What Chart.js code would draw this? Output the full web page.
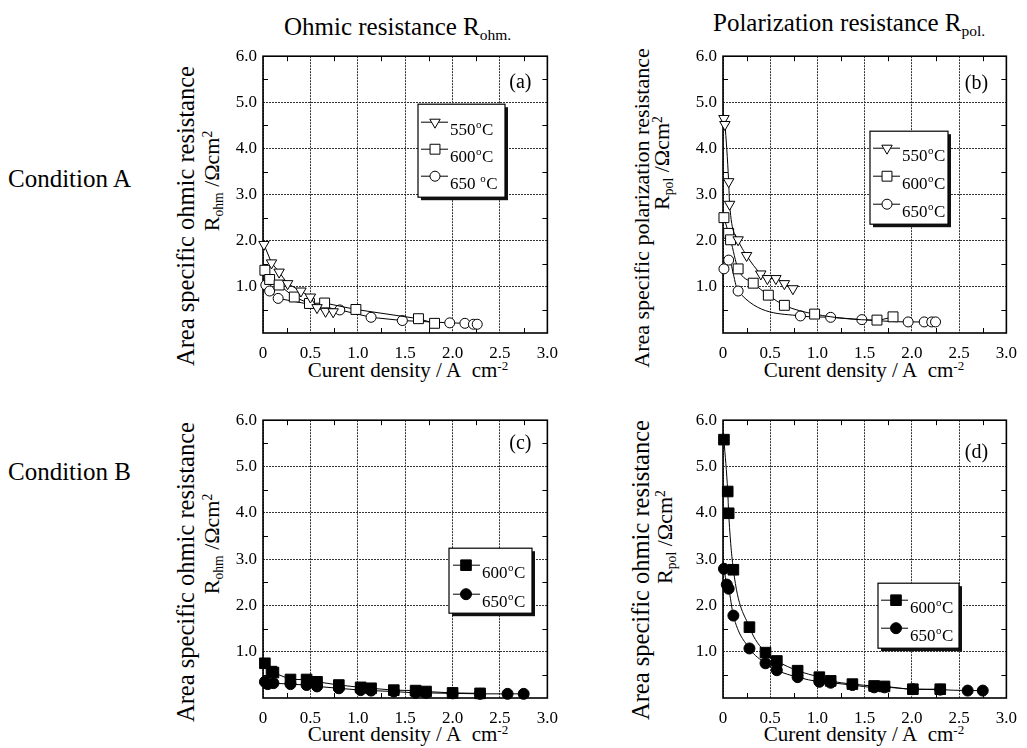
<!DOCTYPE html>
<html>
<head>
<meta charset="utf-8">
<script src="https://cdn.jsdelivr.net/npm/chart.js@4.4.0/dist/chart.umd.min.js"></script>
<style>
html, body { margin: 0; padding: 0; background: #fff; }
#page { position: relative; width: 1027px; height: 748px; overflow: hidden;
        font-family: "Liberation Serif", "Times New Roman", serif; color: #000; }
#page canvas { position: absolute; }
.t  { position: absolute; white-space: nowrap; line-height: 1; }
.yt { position: absolute; white-space: nowrap; line-height: 1; transform: translate(-50%, -50%) rotate(-90deg); }
.xt { position: absolute; white-space: nowrap; line-height: 1; transform: translateX(-50%); }
.sub { font-size: 0.62em; position: relative; top: 0.32em; }
.sup { font-size: 0.62em; position: relative; top: -0.55em; }
</style>
</head>
<body>
<div id="page">
  <div class="t" style="left:284px; top:14px; font-size:25px;">Ohmic resistance R<span class="sub">ohm.</span></div>
  <div class="t" style="left:713px; top:10px; font-size:25px;">Polarization resistance R<span class="sub">pol.</span></div>
  <div class="t" style="left:8px; top:166px; font-size:25px;">Condition A</div>
  <div class="t" style="left:8px; top:459px; font-size:25px;">Condition B</div>

  <div class="yt" style="left:186px; top:216px; font-size:24.5px;">Area specific ohmic resistance</div>
  <div class="yt" style="left:212px; top:181px; font-size:22px;">R<span class="sub">ohm</span> /Ωcm<span class="sup">2</span></div>
  <div class="yt" style="left:642px; top:208px; font-size:22px;">Area specific polarization resistance</div>
  <div class="yt" style="left:662px; top:163px; font-size:22px;">R<span class="sub">pol</span> /Ωcm<span class="sup">2</span></div>
  <div class="yt" style="left:186px; top:572px; font-size:24.5px;">Area specific ohmic resistance</div>
  <div class="yt" style="left:212px; top:544px; font-size:22px;">R<span class="sub">ohm</span> /Ωcm<span class="sup">2</span></div>
  <div class="yt" style="left:641px; top:570px; font-size:24.5px;">Area specific ohmic resistance</div>
  <div class="yt" style="left:665px; top:537px; font-size:22px;">R<span class="sub">pol</span> /Ωcm<span class="sup">2</span></div>

  <div class="xt" style="left:408px; top:360px; font-size:21px;">Curent density / A&nbsp;&nbsp;cm<span class="sup">-2</span></div>
  <div class="xt" style="left:864px; top:360px; font-size:21px;">Curent density / A&nbsp;&nbsp;cm<span class="sup">-2</span></div>
  <div class="xt" style="left:408px; top:724px; font-size:21px;">Curent density / A&nbsp;&nbsp;cm<span class="sup">-2</span></div>
  <div class="xt" style="left:864px; top:724px; font-size:21px;">Curent density / A&nbsp;&nbsp;cm<span class="sup">-2</span></div>

  <canvas id="cA"></canvas>
  <canvas id="cB"></canvas>
  <canvas id="cC"></canvas>
  <canvas id="cD"></canvas>
</div>

<script>
// ---- axis ticks ----
const xTicks = [0, 0.5, 1.0, 1.5, 2.0, 2.5, 3.0];
const yTicks = [1.0, 2.0, 3.0, 4.0, 5.0, 6.0];
const xMinor = [0.25, 0.75, 1.25, 1.75, 2.25, 2.75];
const yMinor = [0.5, 1.5, 2.5, 3.5, 4.5, 5.5];

// ---- (a) ohmic resistance, condition A ----
const aLabels = ['550°C', '600°C', '650 °C'];
const a550x = [0.01, 0.09, 0.17, 0.26, 0.40, 0.50, 0.57, 0.66, 0.74];
const a550y = [1.92, 1.52, 1.32, 1.07, 0.91, 0.78, 0.55, 0.47, 0.46];
const a600x = [0.02, 0.07, 0.17, 0.33, 0.49, 0.65, 0.98, 1.64, 1.81];
const a600y = [1.36, 1.16, 1.04, 0.78, 0.64, 0.65, 0.51, 0.31, 0.21];
const a650x = [0.03, 0.07, 0.16, 0.81, 1.14, 1.47, 1.97, 2.13, 2.22, 2.26];
const a650y = [1.04, 0.91, 0.75, 0.50, 0.34, 0.27, 0.22, 0.21, 0.19, 0.19];

// ---- (b) polarization resistance, condition A ----
const bLabels = ['550°C', '600°C', '650°C'];
const b550x = [0.01, 0.02, 0.06, 0.07, 0.16, 0.25, 0.40, 0.47, 0.56, 0.65, 0.74];
const b550y = [4.65, 4.52, 3.28, 2.79, 2.02, 1.68, 1.28, 1.18, 1.18, 1.07, 0.96];
const b600x = [0.01, 0.06, 0.08, 0.16, 0.32, 0.48, 0.65, 0.97, 1.63, 1.80];
const b600y = [2.50, 2.16, 2.02, 1.39, 1.08, 0.82, 0.60, 0.41, 0.28, 0.35];
const b650x = [0.01, 0.06, 0.16, 0.82, 1.14, 1.47, 1.96, 2.13, 2.21, 2.25];
const b650y = [1.39, 1.58, 0.91, 0.37, 0.34, 0.29, 0.24, 0.24, 0.24, 0.24];

// ---- (c) ohmic resistance, condition B ----
const cLabels = ['600°C', '650°C'];
const c600x = [0.02, 0.09, 0.11, 0.29, 0.46, 0.57, 0.80, 1.03, 1.14, 1.38, 1.61, 1.72, 2.00, 2.29];
const c600y = [0.75, 0.57, 0.55, 0.40, 0.40, 0.35, 0.28, 0.23, 0.21, 0.17, 0.16, 0.14, 0.11, 0.10];
const c650x = [0.02, 0.05, 0.11, 0.29, 0.46, 0.57, 0.80, 1.03, 1.14, 1.38, 1.61, 1.72, 2.00, 2.29, 2.58, 2.75];
const c650y = [0.35, 0.30, 0.32, 0.30, 0.28, 0.25, 0.21, 0.17, 0.16, 0.14, 0.11, 0.11, 0.10, 0.09, 0.09, 0.09];

// ---- (d) polarization resistance, condition B ----
const dLabels = ['600°C', '650°C'];
const d600x = [0.01, 0.05, 0.06, 0.11, 0.28, 0.45, 0.57, 0.79, 1.02, 1.14, 1.37, 1.60, 1.71, 2.01, 2.30];
const d600y = [5.58, 4.46, 3.99, 2.77, 1.53, 0.98, 0.80, 0.59, 0.45, 0.37, 0.30, 0.26, 0.25, 0.19, 0.19];
const d650x = [0.01, 0.04, 0.06, 0.11, 0.28, 0.45, 0.57, 0.79, 1.02, 1.14, 1.37, 1.60, 1.71, 2.01, 2.30, 2.59, 2.75];
const d650y = [2.79, 2.45, 2.36, 1.78, 1.07, 0.75, 0.60, 0.45, 0.35, 0.33, 0.28, 0.23, 0.23, 0.19, 0.18, 0.16, 0.16];

const FONT = "'Liberation Serif', 'Times New Roman', serif";
Chart.defaults.font.family = FONT;
Chart.defaults.color = '#000';

const pts = (xs, ys) => xs.map((x, i) => ({ x: x, y: ys[i] }));

// marker styles
const TRI  = { pointStyle: 'triangle', pointRotation: 180, pointRadius: 6 };
const SQ   = { pointStyle: 'rect', pointRotation: 0, pointRadius: 7 };
const CIR  = { pointStyle: 'circle', pointRotation: 0, pointRadius: 5 };
const FSQ  = { pointStyle: 'rect', pointRotation: 0, pointRadius: 7.5 };
const FCIR = { pointStyle: 'circle', pointRotation: 0, pointRadius: 5.5 };

function series(label, xs, ys, marker, filled, smooth) {
  return Object.assign({
    label: label,
    data: pts(xs, ys),
    borderColor: '#000',
    borderWidth: 1,
    pointBorderColor: '#000',
    pointBackgroundColor: filled ? '#000' : '#fff',
    pointBorderWidth: 1,
    fill: false,
    clip: false,
    tension: 0,
    cubicInterpolationMode: smooth ? 'monotone' : 'default'
  }, marker);
}

// plot frame with inward minor ticks
const framePlugin = {
  id: 'frame',
  beforeDatasetsDraw(chart) {
    const { ctx, chartArea: a } = chart;
    const xs = chart.scales.x, ys = chart.scales.y;
    ctx.save();
    ctx.strokeStyle = '#000';
    ctx.lineWidth = 1;
    ctx.beginPath();
    xMinor.forEach(v => {
      const px = Math.round(xs.getPixelForValue(v)) + 0.5;
      ctx.moveTo(px, a.bottom); ctx.lineTo(px, a.bottom - 5);
      ctx.moveTo(px, a.top); ctx.lineTo(px, a.top + 5);
    });
    yMinor.forEach(v => {
      const py = Math.round(ys.getPixelForValue(v)) + 0.5;
      ctx.moveTo(a.left, py); ctx.lineTo(a.left + 5, py);
      ctx.moveTo(a.right, py); ctx.lineTo(a.right - 5, py);
    });
    ctx.stroke();
    ctx.lineWidth = 1.6;
    ctx.strokeRect(a.left, a.top, a.right - a.left, a.bottom - a.top);
    ctx.restore();
  }
};

// temperature label with a raised "o"
function drawTemp(ctx, text, x, y) {
  const parts = text.split('°');
  ctx.font = '17px ' + FONT;
  ctx.fillText(parts[0], x, y);
  let tx = x + ctx.measureText(parts[0]).width;
  if (parts.length > 1) {
    ctx.font = '11px ' + FONT;
    ctx.fillText('o', tx + 0.5, y - 7);
    tx += ctx.measureText('o').width + 1;
    ctx.font = '17px ' + FONT;
    ctx.fillText(parts[1], tx, y);
  }
}

// boxed legend with shadow, plus the panel letter
const legendPlugin = {
  id: 'boxLegend',
  afterDraw(chart, args, o) {
    const { ctx, chartArea: a } = chart;
    ctx.save();
    ctx.fillStyle = '#000';
    ctx.font = '20px ' + FONT;
    ctx.textAlign = 'center';
    ctx.textBaseline = 'middle';
    ctx.fillText(o.tag, a.right + o.tagDx, a.top + o.tagDy);

    const bx = a.left + o.box[0], by = a.top + o.box[1], bw = o.box[2], bh = o.box[3];
    ctx.fillStyle = '#111';
    ctx.fillRect(bx + 3, by + 3, bw, bh);
    ctx.fillStyle = '#fff';
    ctx.fillRect(bx, by, bw, bh);
    ctx.strokeStyle = '#000';
    ctx.lineWidth = 1.2;
    ctx.strokeRect(bx, by, bw, bh);

    ctx.textAlign = 'left';
    ctx.textBaseline = 'alphabetic';
    chart.data.datasets.forEach((ds, i) => {
      const my = by + o.rows[i];
      ctx.strokeStyle = '#000';
      ctx.lineWidth = 1;
      ctx.beginPath();
      ctx.moveTo(bx + o.line[0], my);
      ctx.lineTo(bx + o.line[1], my);
      ctx.stroke();
      ctx.fillStyle = ds.pointBackgroundColor;
      ctx.strokeStyle = ds.pointBorderColor;
      ctx.lineWidth = ds.pointBorderWidth;
      Chart.helpers.drawPoint(ctx, {
        pointStyle: ds.pointStyle, rotation: ds.pointRotation,
        radius: ds.pointRadius, borderWidth: ds.pointBorderWidth
      }, bx + o.mark, my);
      ctx.fillStyle = '#000';
      drawTemp(ctx, ds.label, bx + o.text, my + 13);
    });
    ctx.restore();
  }
};

const PAD_L = 45, PAD_T = 15, PAD_R = 14, PAD_B = 35;
const charts = [];

function makePanel(id, area, datasets, legend) {
  const cv = document.getElementById(id);
  cv.width = area.w + PAD_L + PAD_R;
  cv.height = area.h + PAD_T + PAD_B;
  cv.style.left = (area.left - PAD_L) + 'px';
  cv.style.top = (area.top - PAD_T) + 'px';
  charts.push(new Chart(cv, {
    type: 'line',
    data: { datasets: datasets },
    plugins: [framePlugin, legendPlugin],
    options: {
      responsive: false,
      animation: false,
      devicePixelRatio: 1,
      events: [],
      layout: { padding: { top: PAD_T, right: PAD_R, left: 0, bottom: 0 } },
      plugins: {
        legend: { display: false },
        tooltip: { enabled: false },
        boxLegend: legend
      },
      scales: {
        x: {
          type: 'linear', min: 0, max: 3,
          afterFit: s => { s.height = PAD_B; },
          afterBuildTicks: s => { s.ticks = xTicks.map(v => ({ value: v })); },
          ticks: {
            color: '#000', padding: 10, maxRotation: 0, autoSkip: false,
            font: { family: FONT, size: 17 },
            callback: v => (v === 0 ? '0' : v.toFixed(1))
          },
          grid: { color: '#333', lineWidth: 1, drawTicks: false },
          border: { display: false, dash: [2, 1] }
        },
        y: {
          type: 'linear', min: 0, max: 6,
          afterFit: s => { s.width = PAD_L; },
          afterBuildTicks: s => { s.ticks = yTicks.map(v => ({ value: v })); },
          ticks: {
            color: '#000', padding: 6, autoSkip: false,
            font: { family: FONT, size: 17 },
            callback: v => v.toFixed(1)
          },
          grid: { color: '#333', lineWidth: 1, drawTicks: false },
          border: { display: false, dash: [2, 1] }
        }
      }
    }
  }));
}

function drawAll() {
  makePanel('cA', { left: 263, top: 55, w: 291, h: 278 }, [
    series(aLabels[0], a550x, a550y, TRI, false, false),
    series(aLabels[1], a600x, a600y, SQ, false, false),
    series(aLabels[2], a650x, a650y, CIR, false, false)
  ], { tag: '(a)', tagDx: -27, tagDy: 27, box: [155, 48, 87, 93], rows: [18, 45, 72], line: [3, 30], mark: 17, text: 32 });

  makePanel('cB', { left: 723, top: 55, w: 290, h: 278 }, [
    series(bLabels[0], b550x, b550y, TRI, false, true),
    series(bLabels[1], b600x, b600y, SQ, false, true),
    series(bLabels[2], b650x, b650y, CIR, false, true)
  ], { tag: '(b)', tagDx: -30, tagDy: 28, box: [147, 75, 78, 93], rows: [17, 45, 73], line: [3, 30], mark: 17, text: 32 });

  makePanel('cC', { left: 263, top: 419, w: 291, h: 279 }, [
    series(cLabels[0], c600x, c600y, FSQ, true, false),
    series(cLabels[1], c650x, c650y, FCIR, true, false)
  ], { tag: '(c)', tagDx: -27, tagDy: 24, box: [186, 128, 83, 65], rows: [17, 46], line: [4, 31], mark: 17, text: 33 });

  makePanel('cD', { left: 723, top: 419, w: 290, h: 279 }, [
    series(dLabels[0], d600x, d600y, FSQ, true, true),
    series(dLabels[1], d650x, d650y, FCIR, true, true)
  ], { tag: '(d)', tagDx: -30, tagDy: 33, box: [155, 163, 81, 65], rows: [17, 45], line: [3, 30], mark: 18, text: 32 });
}

drawAll();
// redraw once the serif face is ready so canvas text uses it
if (document.fonts && document.fonts.load) {
  Promise.all([
    document.fonts.load("17px 'Liberation Serif'"),
    document.fonts.load("11px 'Liberation Serif'")
  ]).then(() => charts.forEach(c => c.update()));
}
</script>
</body>
</html>
